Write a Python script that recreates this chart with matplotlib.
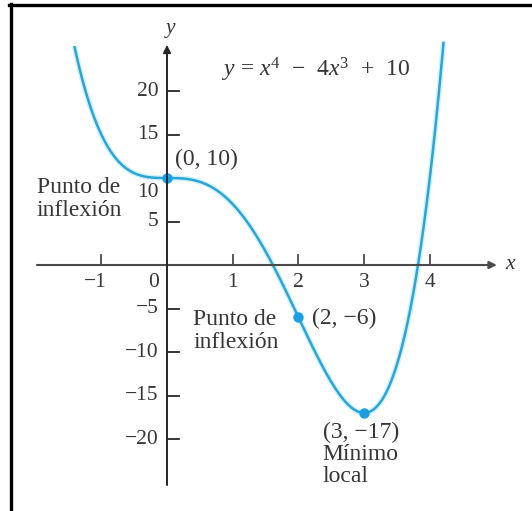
import numpy as np
import matplotlib
matplotlib.use('Agg')
import matplotlib.pyplot as plt
from matplotlib.lines import Line2D

plt.rcParams['font.family'] = ['Liberation Serif', 'DejaVu Serif']
plt.rcParams['mathtext.fontset'] = 'custom'
plt.rcParams['mathtext.it'] = 'Liberation Serif:italic'
plt.rcParams['mathtext.rm'] = 'Liberation Serif'

# curve y = x^4 - 4x^3 + 10, drawn over this x range
X_START = -1.41
X_END = 4.21

# marked points
point_x = [0, 2, 3]
point_y = [10, -6, -17]

x_ticks = [-1, 1, 2, 3, 4]
x_tick_labels = ['\u22121', '1', '2', '3', '4']
y_ticks = [20, 15, 10, 5, -5, -10, -15, -20]
y_tick_labels = ['20', '15', '10', '5', '\u22125', '\u221210', '\u221215', '\u221220']

TEXT = '#363636'
CURVE = '#2ba4d6'
DOT = '#1c9fe2'
AXIS = '#262626'
FS = 15.5
FS_NOTE = 17

fig = plt.figure(figsize=(5.32, 5.11), dpi=100)
ax = fig.add_axes([0, 0, 1, 1])
ax.set_xlim(-167 / 65.7, (532 - 167) / 65.7)
ax.set_ylim(-(511 - 265) / 8.7, 265 / 8.7)
ax.axis('off')

# frame edges (top and left)
fig.add_artist(Line2D([9 / 532, 1], [1 - 5.5 / 511] * 2, color='black', lw=2.4))
fig.add_artist(Line2D([10.5 / 532] * 2, [0, 1 - 4 / 511], color='black', lw=2.4))

# axes with arrowheads
ax.annotate('', xy=(5.02, 0), xytext=(-1.98, 0),
            arrowprops=dict(arrowstyle='-|>', color='#4a4a4a', lw=1.5,
                            mutation_scale=11, shrinkA=0, shrinkB=0))
ax.annotate('', xy=(0, 25.3), xytext=(0, -25.3),
            arrowprops=dict(arrowstyle='-|>', color=AXIS, lw=1.4,
                            mutation_scale=11, shrinkA=0, shrinkB=0))
ax.text(0.05, 27.2, 'y', fontsize=FS, style='italic', color=TEXT, ha='center', va='center')
ax.text(5.22, 0.1, 'x', fontsize=FS, style='italic', color=TEXT, ha='center', va='center')

# tick marks and labels
for xt, lab in zip(x_ticks, x_tick_labels):
    ax.plot([xt, xt], [0, 1.15], color='#4a4a4a', lw=1.3)
    dx = -0.09 if lab.startswith('\u2212') else 0
    ax.text(xt + dx, -2.0, lab, fontsize=FS, color=TEXT, ha='center', va='center')
ax.text(-0.2, -2.0, '0', fontsize=FS, color=TEXT, ha='center', va='center')

for yt, lab in zip(y_ticks, y_tick_labels):
    ax.plot([0, 0.18], [yt, yt], color=AXIS, lw=1.3)
    ylab = 8.3 if yt == 10 else yt
    ax.text(-0.13, ylab, lab, fontsize=FS, color=TEXT, ha='right', va='center')

# curve
xs = np.linspace(X_START, X_END, 400)
ys = xs ** 4 - 4 * xs ** 3 + 10
ax.plot(xs, ys, color='#9fe4fb', lw=4.0, alpha=0.45, solid_capstyle='butt')
ax.plot(xs, ys, color=CURVE, lw=1.8, solid_capstyle='butt')
ax.plot(point_x, point_y, 'o', color=DOT, markersize=7.5, markeredgewidth=0)

# annotations
ax.text(0.84, 22.4, '$y$ = $x^4$\u2002\u2212\u20024$x^3$\u2002+\u200210', fontsize=FS_NOTE,
        color=TEXT, ha='left', va='center')
ax.text(0.12, 12.1, '(0, 10)', fontsize=FS_NOTE, color=TEXT, ha='left', va='center')
ax.text(-1.98, 7.6, 'Punto de\ninflexi\u00f3n', fontsize=FS_NOTE, color=TEXT,
        ha='left', va='center', linespacing=1.1)
ax.text(2.21, -6.1, '(2, \u22126)', fontsize=FS_NOTE, color=TEXT, ha='left', va='center')
ax.text(0.40, -7.6, 'Punto de\ninflexi\u00f3n', fontsize=FS_NOTE, color=TEXT,
        ha='left', va='center', linespacing=1.1)
ax.text(2.37, -21.8, '(3, \u221217)\nM\u00ednimo\nlocal', fontsize=FS_NOTE, color=TEXT,
        ha='left', va='center', linespacing=1.05)

fig.savefig('out.png', dpi=100)
